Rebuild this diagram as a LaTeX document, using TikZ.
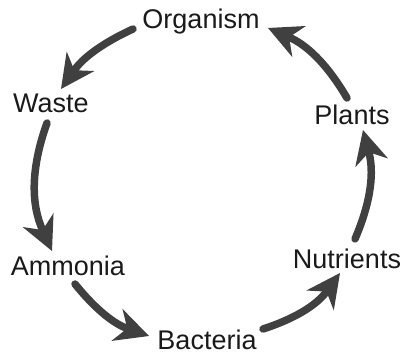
\documentclass[tikz,border=0pt]{standalone}
\usepackage{fontspec}
\setmainfont{Liberation Sans}
\usetikzlibrary{arrows.meta}
\definecolor{arrowgray}{HTML}{404040}
\definecolor{textgray}{HTML}{1A1A1A}
\begin{document}
\begin{tikzpicture}[x=1pt,y=1pt,
  lbl/.style={anchor=base,inner sep=0pt,font=\fontsize{27}{30}\selectfont,text=textgray},
  cyc/.style={draw=arrowgray,line width=7.5pt,line cap=round,
    -{Stealth[length=34pt,width=34pt,inset=11pt,line width=0pt]}}]
\useasboundingbox (0,0) rectangle (409,356);
\node[lbl] (org) at (201,327) {Organism};
\node[lbl] (waste) at (51,243) {Waste};
\node[lbl] (plants) at (352,231) {Plants};
\node[lbl] (ammonia) at (68,81) {Ammonia};
\node[lbl] (bacteria) at (207,7) {Bacteria};
\node[lbl] (nutrients) at (347,88) {Nutrients};
\draw[cyc] ([shift={(-68,0)}]org.base) to[bend right=15] ([shift={(10,24)}]waste.base);
\draw[cyc] ([shift={(-4,-10)}]waste.base) to[bend right=22] ([shift={(-16,24)}]ammonia.base);
\draw[cyc] ([shift={(7,-9)}]ammonia.base) to[bend right=16] ([shift={(-58,13)}]bacteria.base);
\draw[cyc] ([shift={(56,20)}]bacteria.base) to[bend right=18] ([shift={(-7,-5)}]nutrients.base);
\draw[cyc] ([shift={(8,29)}]nutrients.base) to[bend right=19] ([shift={(11,-5)}]plants.base);
\draw[cyc] ([shift={(-5,27)}]plants.base) to[bend right=18] ([shift={(67,1)}]org.base);
\end{tikzpicture}
\end{document}
